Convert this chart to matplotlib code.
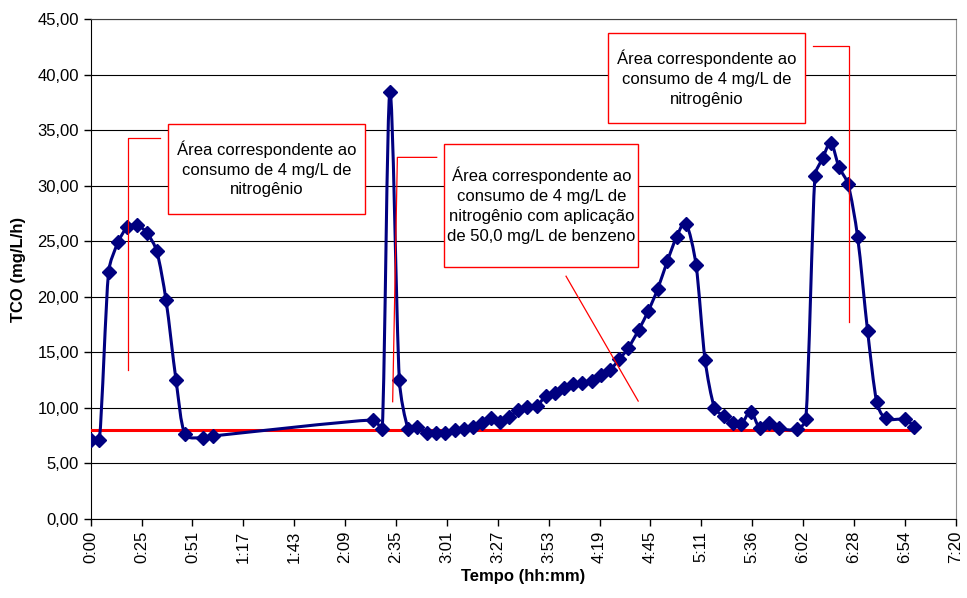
import numpy as np
import matplotlib
matplotlib.use("Agg")
import matplotlib.pyplot as plt
from matplotlib.path import Path
from matplotlib.patches import PathPatch, Rectangle

plt.rcParams['font.family'] = ['Liberation Sans', 'DejaVu Sans']

# tempo em minutos desde 0:00
tempo = [0, 4.4, 9.1, 13.9, 18.6, 23.7, 28.8, 33.6, 38.3, 43.4, 48.0,
         57.3, 62.0,
         143.7, 148.3, 152.2, 157.0, 161.5, 166.1, 170.9, 175.6, 180.2,
         185.1, 189.9, 194.6, 199.0, 203.8, 208.2, 212.8, 217.3, 222.1, 226.9,
         231.4, 236.0, 240.7, 245.5, 250.0, 254.8, 259.4, 264.1, 268.9, 273.5,
         278.7, 283.6, 288.4, 293.3, 298.1, 302.8, 307.9, 312.5, 317.3, 322.0,
         326.6, 331.0, 335.7, 340.4, 345.2, 349.9, 359.1, 363.8,
         368.4, 372.3, 376.5, 380.6, 385.3, 390.1, 395.2, 399.8, 404.4, 414.2, 418.9]
tco = [7.09, 7.09, 22.25, 24.9, 26.25, 26.46, 25.7, 24.1, 19.7, 12.5, 7.6,
       7.3, 7.45,
       8.9, 8.08, 38.47, 12.5, 8.1, 8.23, 7.75, 7.75, 7.75,
       7.99, 8.1, 8.29, 8.59, 9.05, 8.74, 9.13, 9.79, 10.09, 10.15,
       11.05, 11.3, 11.75, 12.14, 12.2, 12.43, 12.95, 13.4, 14.36, 15.4,
       17.0, 18.71, 20.69, 23.2, 25.4, 26.6, 22.9, 14.33, 9.98, 9.23,
       8.59, 8.53, 9.64, 8.14, 8.59, 8.14, 8.05, 8.98,
       30.87, 32.47, 33.87, 31.7, 30.12, 25.4, 16.9, 10.54, 9.04, 8.95, 8.29]
nivel_base = 8.0

xticklabels = ['0:00', '0:25', '0:51', '1:17', '1:43', '2:09', '2:35', '3:01', '3:27',
               '3:53', '4:19', '4:45', '5:11', '5:36', '6:02', '6:28', '6:54', '7:20']
texto1 = 'Área correspondente ao\nconsumo de 4 mg/L de\nnitrogênio'
texto2 = ('Área correspondente ao\nconsumo de 4 mg/L de\nnitrogênio com aplicação\n'
          'de 50,0 mg/L de benzeno')
texto3 = 'Área correspondente ao\nconsumo de 4 mg/L de\nnitrogênio'

fig = plt.figure(figsize=(9.67, 5.98), dpi=100)
ax = fig.add_axes([0.0938, 0.1326, 0.8945, 0.8351])
ax.set_xlim(0, 440)
ax.set_ylim(0, 45)

# linha suavizada (catmull-rom -> bezier, tangente limitada), em escala de pixels
sx, sy = 865 / 440, 11.1
P = np.column_stack([np.array(tempo) * sx, np.array(tco) * sy])
n = len(P)

def limita(v, seg):
    m = np.hypot(*v)
    lim = np.hypot(*seg) / 3
    return v * (lim / m) if m > lim else v

verts = [P[0]]
codes = [Path.MOVETO]
for i in range(n - 1):
    p1, p2 = P[i], P[i + 1]
    p0 = P[i - 1] if i > 0 else p1
    p3 = P[i + 2] if i + 2 < n else p2
    c1 = p1 + limita((p2 - p0) / 6, p2 - p1)
    c2 = p2 - limita((p3 - p1) / 6, p2 - p1)
    verts += [c1, c2, p2]
    codes += [Path.CURVE4] * 3
verts = np.array(verts) / [sx, sy]
ax.add_patch(PathPatch(Path(verts, codes), fill=False, ec='#000080', lw=2.2, zorder=4))
ax.plot(tempo, tco, ls='none', marker='D', ms=7, color='#000080', zorder=5)

ax.plot([tempo[0], tempo[-1]], [nivel_base, nivel_base], color='red', lw=2.2, zorder=3)

ax.set_yticks(np.arange(0, 46, 5))
ax.set_yticklabels([f'{v:.2f}'.replace('.', ',') for v in np.arange(0, 46, 5)], fontsize=12)
ax.set_xticks(np.linspace(0, 440, 18))
ax.set_xticklabels(xticklabels, rotation=90, fontsize=12)
ax.tick_params(direction='out', length=5, width=1, color='black')
ax.yaxis.grid(True, color='black', lw=0.8)
ax.set_axisbelow(True)
ax.spines['right'].set_color('#909090')
ax.spines['top'].set_color('#404040')
ax.spines['top'].set_linewidth(0.8)

ax.set_xlabel('Tempo (hh:mm)', fontsize=12, fontweight='bold', labelpad=4)
ax.set_ylabel('TCO (mg/L/h)', fontsize=12, fontweight='bold', labelpad=8)

def caixa(x0, x1, y0, y1, txt):
    ax.add_patch(Rectangle((x0, y0), x1 - x0, y1 - y0, fc='white', ec='red', lw=1, zorder=6))
    ax.text((x0 + x1) / 2, (y0 + y1) / 2, txt, ha='center', va='center', fontsize=12,
            linespacing=1.4, zorder=7)

caixa(39.5, 139.5, 27.45, 35.6, texto1)
caixa(179.9, 278.5, 22.7, 33.76, texto2)
caixa(263.3, 363.3, 35.7, 43.73, texto3)

lw_c = 0.9
ax.plot([35.3, 19.1, 19.1], [34.3, 34.3, 13.4], color='red', lw=lw_c, zorder=6)
ax.plot([176, 156, 153.6], [32.56, 32.56, 10.54], color='red', lw=lw_c, zorder=6)
ax.plot([241.8, 278.5], [21.85, 10.6], color='red', lw=lw_c, zorder=6)
ax.plot([367.2, 385.9, 385.9], [42.6, 42.6, 17.7], color='red', lw=lw_c, zorder=6)

fig.savefig('out.png', dpi=100)
